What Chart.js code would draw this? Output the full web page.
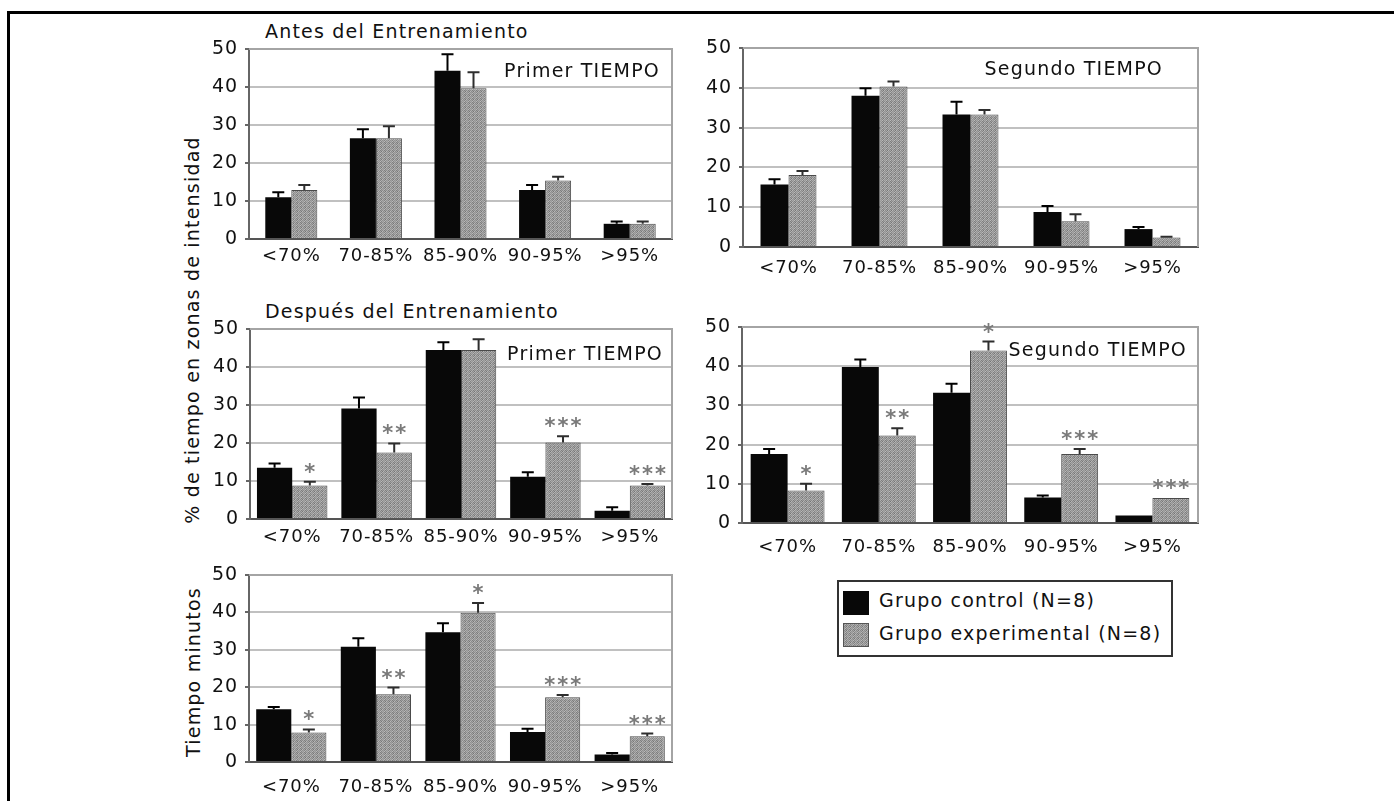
<!DOCTYPE html>
<html lang="es">
<head>
<meta charset="utf-8">
<title>% de tiempo en zonas de intensidad</title>
<script src="https://cdn.jsdelivr.net/npm/chart.js@4.4.0/dist/chart.umd.min.js"></script>
<style>
  html, body { margin: 0; padding: 0; background: #fff; }
  #page { position: relative; width: 1394px; height: 801px; overflow: hidden;
          font-family: "DejaVu Sans", "Verdana", sans-serif; color: #111; }
  #frame { position: absolute; left: 7px; top: 11px; right: -10px; bottom: -10px;
           border-top: 3px solid #000; border-left: 3px solid #000; }
  canvas { position: absolute; }
  .title { position: absolute; font-size: 19px; letter-spacing: 1.2px; white-space: nowrap; line-height: 19px; }
  .ytitle { position: absolute; font-size: 19px; letter-spacing: 1.2px; white-space: nowrap; line-height: 19px;
            transform: translate(-50%, -50%) rotate(-90deg); }
  #legend { position: absolute; left: 837px; top: 580px; width: 332px; height: 73px; border: 2px solid #333; }
  #legend .sw { position: absolute; left: 4px; width: 26px; height: 24px; }
  #legend .txt { position: absolute; left: 40px; font-size: 19px; letter-spacing: 1.2px; line-height: 19px; white-space: nowrap; }
</style>
</head>
<body>
<div id="page">
  <div id="frame"></div>

  <div class="title" style="left:265px; top:22px;">Antes del Entrenamiento</div>
  <div class="title" style="left:265px; top:302px;">Después del Entrenamiento</div>
  <div class="ytitle" style="left:192px; top:330px;">% de tiempo en zonas de intensidad</div>
  <div class="ytitle" style="left:193px; top:672px;">Tiempo minutos</div>

  <canvas id="antesPrimer"></canvas>
  <canvas id="antesSegundo"></canvas>
  <canvas id="despuesPrimer"></canvas>
  <canvas id="despuesSegundo"></canvas>
  <canvas id="tiempoMinutos"></canvas>

  <div id="legend">
    <div class="sw" id="swControl" style="top:9px; background:#080808;"></div>
    <div class="txt" id="txtControl" style="top:9px;"></div>
    <div class="sw" id="swExp" style="top:41px; border:1px solid #555; box-sizing:border-box;"></div>
    <div class="txt" id="txtExp" style="top:42px;"></div>
  </div>
</div>

<script>
// Intensity zones (% of maximum heart rate)
const categories = ['<70%', '70-85%', '85-90%', '90-95%', '>95%'];
const seriesNames = ['Grupo control (N=8)', 'Grupo experimental (N=8)'];

// Antes del Entrenamiento — Primer TIEMPO (% de tiempo)
const antesPrimerControl    = [11.0, 26.5, 44.3, 12.9, 4.0];
const antesPrimerControlErr = [1.3, 2.4, 4.3, 1.3, 0.6];
const antesPrimerExp        = [12.9, 26.5, 39.7, 15.4, 4.0];
const antesPrimerExpErr     = [1.3, 3.2, 4.2, 1.0, 0.6];

// Antes del Entrenamiento — Segundo TIEMPO (% de tiempo)
const antesSegundoControl    = [15.7, 38.0, 33.3, 8.8, 4.5];
const antesSegundoControlErr = [1.3, 1.9, 3.2, 1.5, 0.5];
const antesSegundoExp        = [18.1, 40.3, 33.3, 6.5, 2.4];
const antesSegundoExpErr     = [1.0, 1.3, 1.1, 1.7, 0.2];

// Después del Entrenamiento — Primer TIEMPO (% de tiempo)
const despuesPrimerControl    = [13.5, 29.1, 44.5, 11.1, 2.2];
const despuesPrimerControlErr = [1.1, 2.9, 2.0, 1.2, 0.9];
const despuesPrimerExp        = [8.8, 17.5, 44.5, 20.1, 8.8];
const despuesPrimerExpErr     = [1.0, 2.4, 2.8, 1.7, 0.4];
const despuesPrimerSig        = ['*', '**', '', '***', '***'];

// Después del Entrenamiento — Segundo TIEMPO (% de tiempo)
const despuesSegundoControl    = [17.6, 39.8, 33.2, 6.5, 1.9];
const despuesSegundoControlErr = [1.3, 1.9, 2.3, 0.5, 0];
const despuesSegundoExp        = [8.3, 22.3, 44.0, 17.6, 6.4];
const despuesSegundoExpErr     = [1.7, 1.9, 2.3, 1.3, 0];
const despuesSegundoSig        = ['*', '**', '*', '***', '***'];

// Tiempo en minutos
const minutosControl    = [14.1, 30.8, 34.7, 8.0, 2.0];
const minutosControlErr = [0.6, 2.3, 2.4, 0.9, 0.4];
const minutosExp        = [7.9, 18.1, 39.9, 17.3, 6.9];
const minutosExpErr     = [0.8, 1.8, 2.6, 0.6, 0.7];
const minutosSig        = ['*', '**', '*', '***', '***'];

const yTicks = { min: 0, max: 50, step: 10 };

// ---- drawing helpers ----
const PAD_L = 70, PAD_R = 12, PAD_T = 20, X_H = 45;

Chart.defaults.font.family = '"DejaVu Sans", Verdana, sans-serif';
Chart.defaults.color = '#111';

// speckled grey fill used for the experimental group
function makeGreyTile() {
  const shades = [
    [150, 186, 132, 170],
    [174, 126, 160, 140],
    [138, 168, 118, 184],
    [164, 132, 178, 146]
  ];
  const c = document.createElement('canvas');
  c.width = 4; c.height = 4;
  const g = c.getContext('2d');
  shades.forEach((row, y) => row.forEach((v, x) => {
    g.fillStyle = `rgb(${v},${v},${v})`;
    g.fillRect(x, y, 1, 1);
  }));
  return c;
}
const greyTile = makeGreyTile();
const greyFill = greyTile.getContext('2d').createPattern(greyTile, 'repeat');

const textSpacing = {
  id: 'textSpacing',
  beforeDraw(chart) { chart.ctx.letterSpacing = '0.9px'; }
};

// light frame on top and right of the plot area
const plotFrame = {
  id: 'plotFrame',
  beforeDatasetsDraw(chart) {
    const { ctx, chartArea: a } = chart;
    ctx.save();
    ctx.strokeStyle = '#a4a4a4';
    ctx.lineWidth = 2;
    ctx.beginPath();
    ctx.moveTo(a.left, a.top);
    ctx.lineTo(a.right, a.top);
    ctx.lineTo(a.right, a.bottom);
    ctx.stroke();
    ctx.restore();
  }
};

// upper error bars and significance asterisks
const errorBars = {
  id: 'errorBars',
  afterDatasetsDraw(chart) {
    const ctx = chart.ctx;
    const y = chart.scales.y;
    chart.data.datasets.forEach((ds, di) => {
      const meta = chart.getDatasetMeta(di);
      meta.data.forEach((bar, i) => {
        const e = (ds.errors || [])[i] || 0;
        const topPx = y.getPixelForValue(ds.data[i] + e);
        if (e > 0) {
          ctx.save();
          ctx.strokeStyle = ds.errorColor;
          ctx.lineWidth = 2;
          ctx.beginPath();
          ctx.moveTo(bar.x, bar.y);
          ctx.lineTo(bar.x, topPx);
          ctx.moveTo(bar.x - 6, topPx);
          ctx.lineTo(bar.x + 6, topPx);
          ctx.stroke();
          ctx.restore();
        }
        const mark = (ds.marks || [])[i];
        if (mark) {
          ctx.save();
          ctx.letterSpacing = '2px';
          ctx.fillStyle = '#7a7a7a';
          ctx.font = 'bold 21px "DejaVu Sans", sans-serif';
          ctx.textAlign = 'center';
          ctx.textBaseline = 'alphabetic';
          ctx.fillText(mark, bar.x + 1, topPx - 3);
          ctx.restore();
        }
      });
    });
  }
};

// "Primer TIEMPO" / "Segundo TIEMPO" caption inside the plot
const panelLabel = {
  id: 'panelLabel',
  afterDatasetsDraw(chart, args, opts) {
    if (!opts.text) return;
    const { ctx, chartArea: a } = chart;
    ctx.save();
    ctx.letterSpacing = '1.2px';
    ctx.fillStyle = '#111';
    ctx.font = '19px "DejaVu Sans", sans-serif';
    ctx.textAlign = 'right';
    ctx.textBaseline = 'alphabetic';
    ctx.fillText(opts.text, a.right - opts.dx, a.top + opts.dy);
    ctx.restore();
  }
};

function buildPanel(id, area, p) {
  const cv = document.getElementById(id);
  const W = area.r - area.l + PAD_L + PAD_R;
  const H = area.b - area.t + PAD_T + X_H;
  cv.width = W; cv.height = H;
  cv.style.width = W + 'px'; cv.style.height = H + 'px';
  cv.style.left = (area.l - PAD_L) + 'px';
  cv.style.top = (area.t - PAD_T) + 'px';

  return new Chart(cv, {
    type: 'bar',
    data: {
      labels: categories,
      datasets: [
        { label: seriesNames[0], data: p.control, errors: p.controlErr, errorColor: '#000',
          backgroundColor: '#080808', borderWidth: 0 },
        { label: seriesNames[1], data: p.exp, errors: p.expErr, errorColor: '#2e2e2e', marks: p.sig,
          backgroundColor: greyFill, borderColor: '#4a4a4a', borderWidth: 1 }
      ]
    },
    options: {
      responsive: false,
      animation: false,
      devicePixelRatio: 1,
      layout: { padding: { top: PAD_T, right: PAD_R, left: 0, bottom: 0 } },
      datasets: { bar: { categoryPercentage: p.group, barPercentage: 1 } },
      events: [],
      plugins: {
        legend: { display: false },
        tooltip: { enabled: false },
        panelLabel: { text: p.label, dx: p.labelDx, dy: p.labelDy }
      },
      scales: {
        x: {
          grid: { display: false, drawTicks: false },
          border: { display: true, color: '#555', width: 2 },
          ticks: { padding: p.catGap, font: { size: 18 }, color: '#111',
                   maxRotation: 0, autoSkip: false },
          afterFit(s) { s.height = X_H; }
        },
        y: {
          min: yTicks.min, max: yTicks.max,
          ticks: { stepSize: yTicks.step, padding: 7, font: { size: 19 }, color: '#111' },
          grid: { color: '#c0c0c0', lineWidth: 2, tickColor: '#666', tickLength: 4 },
          border: { color: '#666', width: 2 },
          afterFit(s) { s.width = PAD_L; }
        }
      }
    },
    plugins: [textSpacing, plotFrame, errorBars, panelLabel]
  });
}

buildPanel('antesPrimer', { l: 249, r: 672, t: 49, b: 239 }, {
  control: antesPrimerControl, controlErr: antesPrimerControlErr,
  exp: antesPrimerExp, expErr: antesPrimerExpErr, sig: [],
  group: 0.615, catGap: 7, label: 'Primer TIEMPO', labelDx: 12, labelDy: 28
});
buildPanel('antesSegundo', { l: 743, r: 1198, t: 48, b: 247 }, {
  control: antesSegundoControl, controlErr: antesSegundoControlErr,
  exp: antesSegundoExp, expErr: antesSegundoExpErr, sig: [],
  group: 0.615, catGap: 11, label: 'Segundo TIEMPO', labelDx: 35, labelDy: 27
});
buildPanel('despuesPrimer', { l: 250, r: 672, t: 329, b: 519 }, {
  control: despuesPrimerControl, controlErr: despuesPrimerControlErr,
  exp: despuesPrimerExp, expErr: despuesPrimerExpErr, sig: despuesPrimerSig,
  group: 0.835, catGap: 8, label: 'Primer TIEMPO', labelDx: 9, labelDy: 31
});
buildPanel('despuesSegundo', { l: 742, r: 1198, t: 327, b: 523 }, {
  control: despuesSegundoControl, controlErr: despuesSegundoControlErr,
  exp: despuesSegundoExp, expErr: despuesSegundoExpErr, sig: despuesSegundoSig,
  group: 0.81, catGap: 14, label: 'Segundo TIEMPO', labelDx: 11, labelDy: 29
});
buildPanel('tiempoMinutos', { l: 249, r: 672, t: 575, b: 762 }, {
  control: minutosControl, controlErr: minutosControlErr,
  exp: minutosExp, expErr: minutosExpErr, sig: minutosSig,
  group: 0.83, catGap: 15, label: '', labelDx: 0, labelDy: 0
});

// legend
document.getElementById('txtControl').textContent = seriesNames[0];
document.getElementById('txtExp').textContent = seriesNames[1];
document.getElementById('swExp').style.backgroundImage = `url(${greyTile.toDataURL()})`;
</script>
</body>
</html>
